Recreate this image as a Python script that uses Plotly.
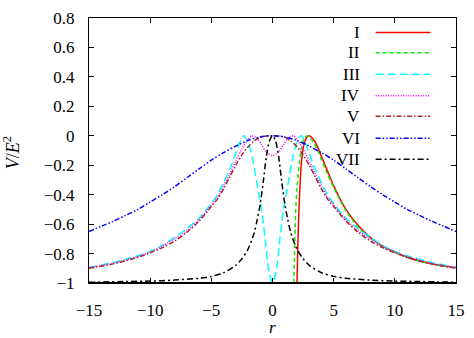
import plotly.graph_objects as go

# 数据
r_I = [2.0, 2.05, 2.1, 2.2, 2.3, 2.4, 2.6, 2.8, 3.0, 3.3, 3.6, 4.0, 4.5, 5, 6, 7, 8, 9, 10, 11, 12, 13, 14, 15]
v_I = [-1.0, -0.82, -0.66, -0.42, -0.26, -0.15, -0.05, -0.01, 0.0, -0.02, -0.06, -0.14, -0.24, -0.34,
       -0.50, -0.61, -0.69, -0.75, -0.79, -0.825, -0.85, -0.87, -0.885, -0.895]

r_II = [1.75, 1.8, 1.85, 1.9, 2.0, 2.1, 2.2, 2.4, 2.6, 2.85, 3.1, 3.4, 3.7, 4.0, 4.5, 5, 6, 7, 8, 9, 10, 11, 12, 13, 14, 15]
v_II = [-1.0, -0.82, -0.63, -0.5, -0.36, -0.26, -0.18, -0.07, -0.015, 0.0, -0.015, -0.05, -0.1, -0.16,
        -0.26, -0.35, -0.51, -0.62, -0.695, -0.75, -0.79, -0.825, -0.85, -0.87, -0.885, -0.895]

r_III = [-15, -13, -11, -10, -9, -8, -7, -6, -5, -4.5, -4, -3.5, -3, -2.7, -2.35, -2, -1.6, -1.2, -0.9, -0.6, -0.3, 0,
         0.3, 0.6, 0.9, 1.2, 1.6, 2, 2.35, 2.7, 3, 3.5, 4, 4.5, 5, 6, 7, 8, 9, 10, 11, 13, 15]
v_III = [-0.895, -0.86, -0.815, -0.785, -0.745, -0.69, -0.63, -0.56, -0.46, -0.40, -0.32, -0.23, -0.12, -0.05, 0.0,
         -0.04, -0.17, -0.36, -0.50, -0.70, -0.92, -1.0,
         -0.92, -0.70, -0.50, -0.36, -0.17, -0.04, 0.0, -0.05, -0.12, -0.23, -0.32, -0.40, -0.46, -0.56, -0.63,
         -0.69, -0.745, -0.785, -0.815, -0.86, -0.895]

r_IV = [-15, -13, -11, -10, -9, -8, -7, -6, -5, -4.5, -4, -3.5, -3, -2.5, -2, -1.7, -1.3, -0.9, -0.5, 0,
        0.5, 0.9, 1.3, 1.7, 2, 2.5, 3, 3.5, 4, 4.5, 5, 6, 7, 8, 9, 10, 11, 13, 15]
v_IV = [-0.895, -0.865, -0.82, -0.79, -0.75, -0.70, -0.645, -0.57, -0.47, -0.42, -0.34, -0.26, -0.17, -0.09,
        -0.025, 0.0, -0.015, -0.06, -0.11, -0.135,
        -0.11, -0.06, -0.015, 0.0, -0.025, -0.09, -0.17, -0.26, -0.34, -0.42, -0.47, -0.57, -0.645, -0.70,
        -0.75, -0.79, -0.82, -0.865, -0.895]

r_V = [-15, -13, -11, -10, -9, -8, -7, -6, -5, -4.5, -4, -3.5, -3, -2.5, -2, -1.5, -1, -0.5, 0,
       0.5, 1, 1.5, 2, 2.5, 3, 3.5, 4, 4.5, 5, 6, 7, 8, 9, 10, 11, 13, 15]
v_V = [-0.9, -0.87, -0.825, -0.795, -0.76, -0.715, -0.655, -0.58, -0.48, -0.43, -0.36, -0.28, -0.2, -0.13,
       -0.075, -0.035, -0.01, -0.002, 0.0,
       -0.002, -0.01, -0.035, -0.075, -0.13, -0.2, -0.28, -0.36, -0.43, -0.48, -0.58, -0.655, -0.715, -0.76,
       -0.795, -0.825, -0.87, -0.9]

r_VI = [-15, -14, -13, -12, -11, -10, -9, -8, -7, -6, -5, -4, -3, -2, -1, 0,
        1, 2, 3, 4, 5, 6, 7, 8, 9, 10, 11, 12, 13, 14, 15]
v_VI = [-0.65, -0.615, -0.58, -0.54, -0.50, -0.45, -0.40, -0.345, -0.285, -0.225, -0.165, -0.115, -0.07, -0.032,
        -0.008, 0.0,
        -0.008, -0.032, -0.07, -0.115, -0.165, -0.225, -0.285, -0.345, -0.40, -0.45, -0.50, -0.54, -0.58,
        -0.615, -0.65]

r_VII = [-15, -12, -10, -8, -6, -5, -4, -3, -2.5, -2, -1.5, -1.25, -1, -0.75, -0.5, -0.25, 0,
         0.25, 0.5, 0.75, 1, 1.25, 1.5, 2, 2.5, 3, 4, 5, 6, 8, 10, 12, 15]
v_VII = [-0.995, -0.99, -0.987, -0.98, -0.968, -0.955, -0.93, -0.88, -0.835, -0.77, -0.66, -0.57, -0.46, -0.31,
         -0.14, -0.035, 0.0,
         -0.035, -0.14, -0.31, -0.46, -0.57, -0.66, -0.77, -0.835, -0.88, -0.93, -0.955, -0.968, -0.98, -0.987,
         -0.99, -0.995]

labels = ['I', 'II', 'III', 'IV', 'V', 'VI', 'VII']
colors = ['#ff0000', '#00ee00', '#00ffff', '#ff00ff', '#a52a2a', '#0000ff', '#000000']
dashes = ['solid', '4px,3px', '8px,4px', '1px,1.5px', '5px,2px,1.5px,2px', '5px,2px,1.5px,2px,1.5px,2px',
          '6px,3px,2px,3px']

x_ticks = [-15, -10, -5, 0, 5, 10, 15]
x_ticktext = ['\u221215', '\u221210', '\u22125', '0', '5', '10', '15']
y_ticks = [-1, -0.8, -0.6, -0.4, -0.2, 0, 0.2, 0.4, 0.6, 0.8]
y_ticktext = ['\u22121', '\u22120.8', '\u22120.6', '\u22120.4', '\u22120.2', '0', '0.2', '0.4', '0.6', '0.8']

series = [(r_I, v_I), (r_II, v_II), (r_III, v_III), (r_IV, v_IV), (r_V, v_V), (r_VI, v_VI), (r_VII, v_VII)]

FONT = 'Liberation Serif'
txt = dict(family=FONT, size=17, color='#000')

fig = go.Figure()
for (xs, ys), name, c, d in zip(series, labels, colors, dashes):
    fig.add_trace(go.Scatter(
        x=xs, y=ys, name=name, mode='lines',
        line=dict(color=c, width=1.5, dash=d, shape='spline', smoothing=0.8),
        showlegend=False,
    ))

# 手工图例: 文字在左, 线在右
leg_rows = [0.945, 0.869, 0.788, 0.707, 0.629, 0.546, 0.467]
shapes = []
annotations = []
for name, c, d, yy in zip(labels, colors, dashes, leg_rows):
    shapes.append(dict(type='line', xref='paper', yref='paper', x0=0.781, x1=0.930, y0=yy, y1=yy,
                       line=dict(color=c, width=1.5, dash=d)))
    annotations.append(dict(text=name, xref='paper', yref='paper', x=0.744, y=yy, xanchor='right',
                            yanchor='middle', showarrow=False, font=txt))

# 底边加粗
shapes.append(dict(type='line', xref='paper', yref='paper', x0=0, x1=1, y0=0, y1=0,
                   line=dict(color='#000', width=2.2)))

annotations.append(dict(text='<i>r</i>', xref='paper', yref='paper', x=0.5, y=-0.168, xanchor='center',
                        yanchor='middle', showarrow=False, font=txt))
annotations.append(dict(text='<i>V</i>/<i>E</i><sup>2</sup>', xref='paper', yref='paper', x=-0.212, y=0.49,
                        xanchor='center', yanchor='middle', textangle=-90, showarrow=False,
                        font=dict(family=FONT, size=18, color='#000')))

fig.update_layout(
    width=474, height=338,
    margin=dict(l=89, r=10, t=9, b=55),
    paper_bgcolor='white', plot_bgcolor='white',
    font=txt,
    shapes=shapes, annotations=annotations,
    showlegend=False,
)
fig.update_xaxes(range=[-15, 15], tickvals=x_ticks, ticktext=x_ticktext, ticks='inside', ticklen=5,
                 tickcolor='#000', tickfont=txt, showline=True, linecolor='#000', linewidth=1.2,
                 mirror='ticks', showgrid=False, zeroline=False, ticklabelstandoff=11)
fig.update_yaxes(range=[-1, 0.8], tickvals=y_ticks, ticktext=y_ticktext, ticks='inside', ticklen=5,
                 tickcolor='#000', tickfont=txt, showline=True, linecolor='#000', linewidth=1.2,
                 mirror='ticks', showgrid=False, zeroline=False, ticklabelstandoff=10)

fig.write_html('out.html', config={'displayModeBar': False},
               post_script="document.body.style.margin='0';")
